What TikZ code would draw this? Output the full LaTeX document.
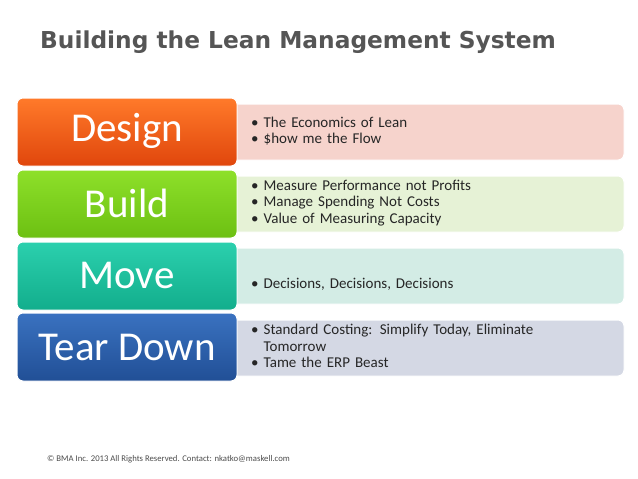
\documentclass[tikz,border=0pt]{standalone}
\usepackage{fontspec}
\setmainfont{Carlito}
\newfontfamily\titlefont{DejaVu Sans}
\usetikzlibrary{positioning}
\definecolor{titlegray}{HTML}{555555}
\definecolor{designtop}{HTML}{FF7A2A}
\definecolor{designbot}{HTML}{E0460C}
\definecolor{designlt}{HTML}{F6D3CC}
\definecolor{buildtop}{HTML}{8EE02A}
\definecolor{buildbot}{HTML}{6CC012}
\definecolor{buildlt}{HTML}{E6F2D6}
\definecolor{movetop}{HTML}{2BD0AE}
\definecolor{movebot}{HTML}{12AE8C}
\definecolor{movelt}{HTML}{D3ECE5}
\definecolor{teartop}{HTML}{3A72C0}
\definecolor{tearbot}{HTML}{214F96}
\definecolor{tearlt}{HTML}{D4D8E4}
\tikzset{
    bigbox/.style={rounded corners=6pt, draw=white, line width=1pt},
    listbox/.style={rounded corners=6pt, draw=white, line width=1pt},
    biglabel/.style={text=white, font=\fontsize{41}{44}\selectfont},
    listtext/.style={anchor=west, align=left, text width=300pt, font=\fontsize{15}{16.5}\selectfont, text=black!85, inner sep=0pt}
}
\begin{document}
\begin{tikzpicture}[x=1pt,y=-1pt]
    \useasboundingbox[fill=white] (0,0) rectangle (638,479);

    \node[anchor=west, text=titlegray, font=\titlefont\bfseries\fontsize{23.3}{26}\selectfont, inner sep=0pt] (title) at (40,42) {Building the Lean Management System};

    % light list boxes
    \draw[listbox, fill=designlt] (220,104) rectangle (624,160);
    \draw[listbox, fill=buildlt] (220,176) rectangle (624,232);
    \draw[listbox, fill=movelt] (220,248) rectangle (624,304);
    \draw[listbox, fill=tearlt] (220,320) rectangle (624,376);

    % coloured step boxes
    \draw[bigbox, top color=designtop, bottom color=designbot] (17,98) rectangle (237,166);
    \draw[bigbox, top color=buildtop, bottom color=buildbot] (17,170) rectangle (237,238);
    \draw[bigbox, top color=movetop, bottom color=movebot] (17,242) rectangle (237,310);
    \draw[bigbox, top color=teartop, bottom color=tearbot] (17,313) rectangle (237,381);

    \node[biglabel] (design) at (127,131) {Design};
    \node[biglabel] (build) at (127,203) {Build};
    \node[biglabel] (move) at (127,275) {Move};
    \node[biglabel] (teardown) at (127,347) {Tear Down};

    \node[listtext] (designlist) at (251,131) {\textbullet\ The Economics of Lean\\\textbullet\ \$how me the Flow};
    \node[listtext] (buildlist) at (251,203) {\textbullet\ Measure Performance not Profits\\\textbullet\ Manage Spending Not Costs\\\textbullet\ Value of Measuring Capacity};
    \node[listtext] (movelist) at (251,284) {\textbullet\ Decisions, Decisions, Decisions};
    \node[listtext, text width=330pt] (tearlist) at (251,346) {\textbullet\ Standard Costing: Simplify Today, Eliminate\\\phantom{\textbullet}\ Tomorrow\\\textbullet\ Tame the ERP Beast};

    \node[anchor=west, inner sep=0pt, text=black!70, font=\fontsize{8.7}{10}\selectfont] (footer) at (47,459) {\textcopyright\ BMA Inc. 2013 All Rights Reserved. Contact: nkatko@maskell.com};
\end{tikzpicture}
\end{document}
